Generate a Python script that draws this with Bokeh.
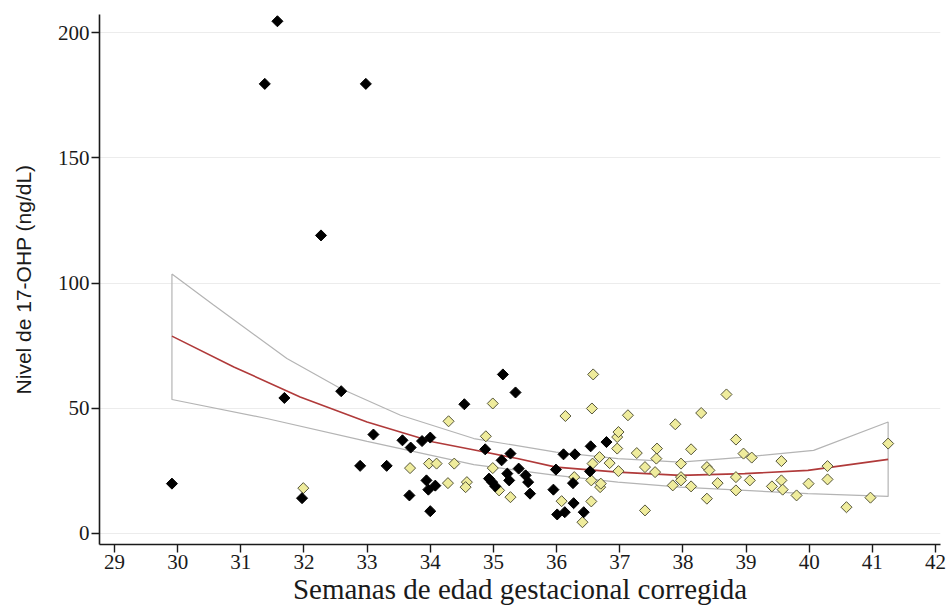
import numpy as np
from bokeh.plotting import figure
from bokeh.models import FixedTicker, Range1d
from bokeh.embed import file_html
from bokeh.resources import INLINE

# ---- data ----
black_x = [29.91, 31.38, 31.58, 31.69, 31.97, 32.27, 32.59, 32.98, 32.89, 33.10,
           33.31, 33.56, 33.67, 33.69, 33.87, 33.94, 33.97, 34.00, 34.00, 34.08,
           34.54, 34.87, 34.93, 34.98, 35.03, 35.13, 35.15, 35.22, 35.25, 35.27,
           35.35, 35.40, 35.51, 35.55, 35.58, 35.95, 35.99, 36.01, 36.11, 36.13,
           36.26, 36.27, 36.29, 36.43, 36.53, 36.54, 36.79]
black_y = [19.9, 179.5, 204.5, 54.1, 14.1, 119.0, 56.8, 179.5, 27.0, 39.5,
           27.0, 37.2, 15.2, 34.3, 36.9, 21.2, 17.5, 38.3, 8.9, 19.1,
           51.6, 33.6, 21.9, 20.5, 18.8, 29.2, 63.5, 23.9, 21.2, 31.9,
           56.3, 25.9, 23.2, 20.5, 15.9, 17.5, 25.5, 7.6, 31.6, 8.5,
           20.1, 12.1, 31.6, 8.5, 24.8, 34.8, 36.5]

yellow_x = [31.99, 33.68, 33.98, 34.10, 34.29, 34.28, 34.38, 34.58, 34.56, 34.88,
            34.99, 34.99, 35.09, 35.27, 36.08, 36.14, 36.28, 36.41, 36.55, 36.55,
            36.56, 36.57, 36.58, 36.68, 36.69, 36.70, 36.84, 36.96, 36.98, 36.96,
            36.98, 37.13, 37.27, 37.40, 37.40, 37.56, 37.58, 37.59, 37.84, 37.88,
            37.97, 37.97, 37.97, 38.13, 38.13, 38.29, 38.38, 38.42, 38.38, 38.55,
            38.69, 38.84, 38.84, 38.84, 38.96, 39.09, 39.06, 39.41, 39.56, 39.56,
            39.58, 39.80, 39.99, 40.29, 40.29, 40.59, 40.97, 41.25]
yellow_y = [18.1, 26.1, 27.9, 27.9, 44.8, 20.1, 27.9, 20.5, 18.5, 38.8,
            51.9, 26.1, 17.2, 14.5, 12.9, 46.9, 22.5, 4.5, 21.2, 12.8,
            49.9, 27.9, 63.5, 30.5, 18.5, 19.9, 28.1, 38.5, 40.5, 33.9,
            24.9, 47.2, 32.1, 26.5, 9.2, 24.5, 29.9, 33.9, 19.2, 43.6,
            27.9, 22.5, 21.2, 33.6, 18.8, 48.1, 26.5, 25.2, 13.9, 20.1,
            55.5, 37.5, 22.5, 17.2, 31.9, 30.3, 21.2, 18.8, 28.9, 21.2,
            17.5, 15.2, 19.9, 26.9, 21.6, 10.5, 14.3, 35.9]

fit_x = [29.91, 30.89, 31.94, 33.00, 34.05, 34.70, 35.38, 35.99, 36.97, 37.96, 38.98, 39.98, 41.25]
fit_y = [78.8, 66.5, 54.5, 44.5, 36.5, 33.3, 29.9, 26.5, 24.5, 23.2, 23.9, 25.2, 29.6]

upper_x = [29.91, 30.57, 31.73, 32.58, 33.53, 34.69, 35.99, 36.97, 37.96, 38.98, 40.07, 41.25]
upper_y = [103.6, 91.2, 69.9, 57.9, 47.2, 37.9, 32.5, 29.9, 28.5, 30.5, 33.2, 44.5]
lower_x = [29.91, 31.41, 33.00, 34.69, 35.99, 36.97, 37.96, 38.98, 39.98, 41.25]
lower_y = [53.5, 45.9, 36.8, 27.5, 23.2, 20.5, 18.5, 17.2, 15.9, 14.8]

x_ticks = list(range(29, 43))
y_ticks = [0, 50, 100, 150, 200]

# ---- figure ----
p = figure(width=948, height=611, output_backend="svg", toolbar_location=None,
           x_range=Range1d(28.763, 42.079), y_range=Range1d(-4.4, 207.2),
           min_border_left=99, min_border_right=8, min_border_top=14, min_border_bottom=67)
p.outline_line_color = None
p.background_fill_color = "white"
p.border_fill_color = "white"

p.xgrid.grid_line_color = None
p.ygrid.grid_line_color = "#ececec"
p.ygrid.grid_line_width = 1

for ax in (p.xaxis[0], p.yaxis[0]):
    ax.axis_line_color = "#1a1a1a"
    ax.axis_line_width = 1.6
    ax.major_tick_line_color = "#1a1a1a"
    ax.major_tick_line_width = 1.4
    ax.major_tick_in = 0
    ax.major_tick_out = 8
    ax.minor_tick_line_color = None
    ax.major_label_text_font = "Liberation Serif"
    ax.major_label_text_font_size = "21px"
    ax.major_label_text_color = "#1a1a1a"
    ax.major_label_standoff = 2
    ax.axis_label_text_font_style = "normal"
    ax.axis_label_text_color = "#1a1a1a"

p.xaxis.ticker = FixedTicker(ticks=x_ticks)
p.yaxis.ticker = FixedTicker(ticks=y_ticks)

p.xaxis.axis_label = "Semanas de edad gestacional corregida"
p.xaxis.axis_label_text_font = "Liberation Serif"
p.xaxis.axis_label_text_font_size = "29px"
p.xaxis.axis_label_standoff = 1

p.yaxis.axis_label = "Nivel de 17-OHP (ng/dL)"
p.yaxis.axis_label_text_font = "Liberation Sans"
p.yaxis.axis_label_text_font_size = "21px"
p.yaxis.axis_label_standoff = 20

# confidence band outline (closed)
band_x = upper_x + lower_x[::-1] + [upper_x[0]]
band_y = upper_y + lower_y[::-1] + [upper_y[0]]
p.line(band_x, band_y, line_color="#b4b4b4", line_width=1.2)

# fitted curve
p.line(fit_x, fit_y, line_color="#b03a3a", line_width=1.6)

# points
p.scatter(yellow_x, yellow_y, marker="square", angle=np.pi / 4, size=7.8,
          fill_color="#efec9c", line_color="#55553a", line_width=1)
p.scatter(black_x, black_y, marker="square", angle=np.pi / 4, size=7.8,
          fill_color="black", line_color="black", line_width=1)

open("out.html", "w").write(file_html(p, INLINE))
